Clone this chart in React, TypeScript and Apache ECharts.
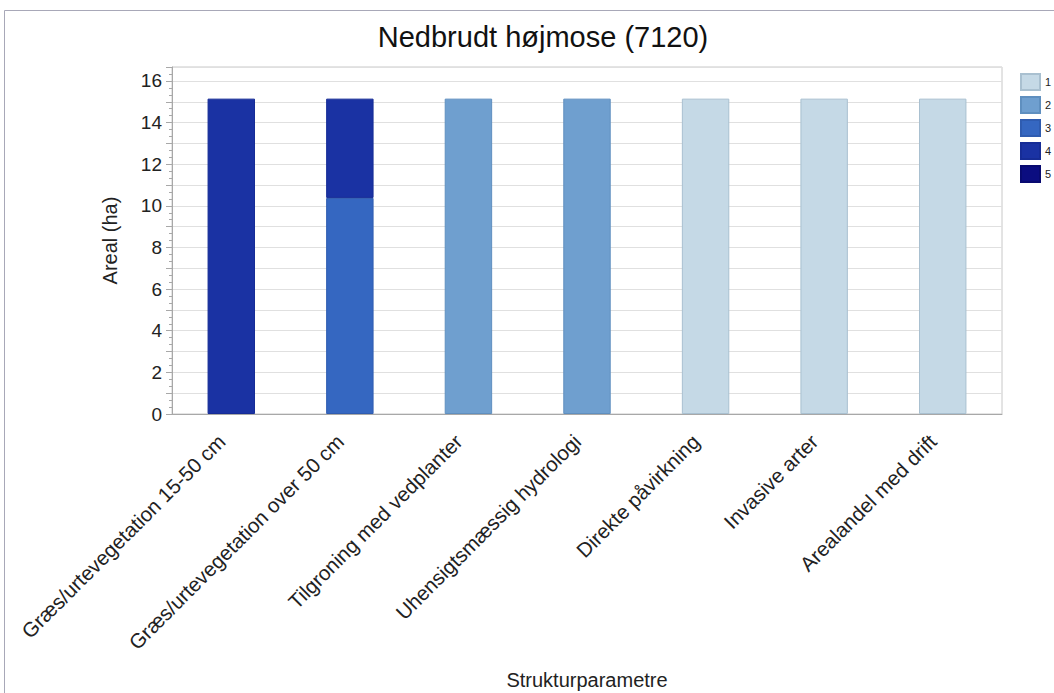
import React, { useEffect, useRef } from "react";
import * as echarts from "echarts";

const categories = [
  "Græs/urtevegetation 15-50 cm",
  "Græs/urtevegetation over 50 cm",
  "Tilgroning med vedplanter",
  "Uhensigtsmæssig hydrologi",
  "Direkte påvirkning",
  "Invasive arter",
  "Arealandel med drift",
];
const seriesNames = ["1", "2", "3", "4", "5"];
const s1 = [0, 0, 0, 0, 15.15, 15.15, 15.15];
const s2 = [0, 0, 15.15, 15.15, 0, 0, 0];
const s3 = [0, 10.38, 0, 0, 0, 0, 0];
const s4 = [15.15, 4.77, 0, 0, 0, 0, 0];
const s5 = [0, 0, 0, 0, 0, 0, 0];
const seriesValues = [s1, s2, s3, s4, s5];
const colors = ["#c5d9e6", "#6f9fcf", "#3567c1", "#1a32a3", "#0b0d80"];
const borders = ["#a9c0d0", "#5f8fbf", "#2f5cb0", "#162c96", "#080a70"];
const yMax = 16.67;

export default function App() {
  const ref = useRef<HTMLDivElement>(null);
  useEffect(() => {
    const chart = echarts.init(ref.current!, null, { renderer: "svg" });
    const font = "'Liberation Sans', Arial, sans-serif";
    const subCats = Array.from({ length: categories.length * 5 }, (_, i) => String(i));
    chart.setOption({
      animation: false,
      textStyle: { fontFamily: font },
      title: {
        text: "Nedbrudt højmose (7120)",
        left: 538,
        top: 17,
        textAlign: "center",
        textStyle: { fontSize: 29, fontWeight: "normal", color: "#111", fontFamily: font },
      },
      graphic: [
        {
          type: "rect",
          shape: { x: 4.5, y: 10.5, width: 1200, height: 900 },
          style: { fill: "none", stroke: "#a8a8b8", lineWidth: 1 },
          silent: true,
        },
      ],
      legend: {
        orient: "vertical",
        left: 1015,
        top: 68,
        itemWidth: 19,
        itemHeight: 16,
        itemGap: 5,
        icon: "rect",
        data: seriesNames,
        textStyle: { fontSize: 11, color: "#222" },
      },
      grid: {
        left: 172,
        right: 52,
        top: 67,
        bottom: 279,
        show: true,
        borderColor: "#c8c8c8",
        borderWidth: 1,
        containLabel: false,
        outerBoundsMode: "none",
      },
      xAxis: [
        {
          type: "category",
          data: categories,
          name: "Strukturparametre",
          nameLocation: "middle",
          nameGap: 256,
          nameTextStyle: { fontSize: 20, color: "#222" },
          axisLine: { lineStyle: { color: "#a8a8a8" } },
          axisTick: { alignWithLabel: true, length: 8, lineStyle: { color: "#a8a8a8" } },
          axisLabel: { rotate: 45, fontSize: 20.5, color: "#222", margin: 14, padding: [0, 14, 0, 0], interval: 0 },
          splitLine: { show: false },
        },
        {
          type: "category",
          data: subCats,
          position: "bottom",
          axisLine: { show: false },
          axisTick: { alignWithLabel: true, length: 4, lineStyle: { color: "#a8a8a8" }, interval: 0 },
          axisLabel: { show: false },
          splitLine: { show: false },
        },
      ],
      yAxis: {
        type: "value",
        min: 0,
        max: yMax,
        interval: 1,
        name: "Areal (ha)",
        nameLocation: "middle",
        nameGap: 52,
        nameTextStyle: { fontSize: 20, color: "#222" },
        axisLine: { show: true, lineStyle: { color: "#a8a8a8" } },
        axisTick: { show: true, length: 6, lineStyle: { color: "#a8a8a8" } },
        minorTick: { show: true, splitNumber: 3, length: 3, lineStyle: { color: "#a8a8a8" } },
        axisLabel: {
          fontSize: 19,
          color: "#222",
          margin: 10,
          formatter: (v: number) => (Math.abs(v % 2) < 1e-6 ? String(v) : ""),
          showMaxLabel: false,
        },
        splitLine: { show: true, lineStyle: { color: "#e0e0e0" } },
      },
      series: seriesNames.map((n, i) => ({
        name: n,
        type: "bar",
        stack: "total",
        xAxisIndex: 0,
        barWidth: "40%",
        data: seriesValues[i].map((v) => (v === 0 ? "-" : v)),
        itemStyle: { color: colors[i], borderColor: borders[i], borderWidth: 1 },
      })),
    });
    return () => chart.dispose();
  }, []);
  return (
    <div
      ref={ref}
      style={{ position: "fixed", left: 0, top: 0, width: 1054, height: 693, background: "#fff" }}
    />
  );
}
